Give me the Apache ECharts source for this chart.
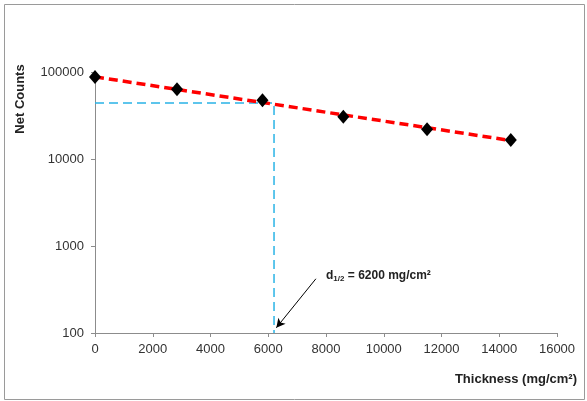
<!DOCTYPE html>
<html>
<head>
<meta charset="utf-8">
<script src="https://cdn.jsdelivr.net/npm/echarts@6/dist/echarts.min.js"></script>
<style>
  html, body { margin: 0; padding: 0; background: #fff; }
  #chart { width: 587px; height: 401px; }
</style>
</head>
<body>
<div id="chart"></div>
<script>
// measured points (thickness mg/cm2, net counts)
const thickness = [0, 2840, 5800, 8600, 11500, 14400]
const counts = [87500, 63500, 47500, 30500, 22000, 16500]

// exponential fit, straight on the log axis
const fitX = [0, 14400]
const fitY = [88000, 16300]

// half-value guide
const halfX = [0, 6200, 6200]
const halfY = [44000, 44000, 100]

// arrow from the label to the axis
const arrowFrom = [7650, 420]
const arrowTo = [6280, 115]

const xTicks = [0, 2000, 4000, 6000, 8000, 10000, 12000, 14000, 16000]
const yTicks = [100, 1000, 10000, 100000]

const chart = echarts.init(document.getElementById('chart'))

const font = 'Liberation Sans, Arial, sans-serif'

const option = {
  animation: false,
  grid: { left: 95, right: 30, top: 72, bottom: 68 },
  xAxis: {
    type: 'value',
    min: xTicks[0],
    max: xTicks[xTicks.length - 1],
    interval: 2000,
    axisLine: { lineStyle: { color: '#8c8c8c', width: 1 } },
    axisTick: { show: true, length: 4, lineStyle: { color: '#8c8c8c' } },
    axisLabel: { color: '#333', fontFamily: font, fontSize: 13, margin: 10, formatter: v => String(v) },
    splitLine: { show: false }
  },
  yAxis: {
    type: 'log',
    logBase: 10,
    min: yTicks[0],
    max: yTicks[yTicks.length - 1],
    axisLine: { show: true, lineStyle: { color: '#8c8c8c', width: 1 } },
    axisTick: { show: true, length: 4, lineStyle: { color: '#8c8c8c' } },
    axisLabel: { color: '#333', fontFamily: font, fontSize: 13, margin: 11, formatter: v => String(Math.round(v)) },
    splitLine: { show: false },
    minorTick: { show: false }
  },
  series: [
    {
      name: 'half',
      type: 'line',
      data: halfX.map((x, i) => [x, halfY[i]]),
      symbol: 'none',
      lineStyle: { color: '#29b3e6', width: 1.5, type: [9, 5] },
      z: 2
    },
    {
      name: 'fit',
      type: 'line',
      data: fitX.map((x, i) => [x, fitY[i]]),
      symbol: 'none',
      lineStyle: { color: '#ff0000', width: 3.5, type: [9, 5] },
      z: 3,
      markLine: {
        silent: true,
        symbol: ['none', 'arrow'],
        symbolSize: [7, 9],
        lineStyle: { color: '#000', width: 1, type: 'solid' },
        label: { show: false },
        data: [[{ coord: arrowFrom }, { coord: arrowTo }]]
      }
    },
    {
      name: 'data',
      type: 'scatter',
      data: thickness.map((x, i) => [x, counts[i]]),
      symbol: 'diamond',
      symbolSize: [12, 14],
      itemStyle: { color: '#000', opacity: 1 },
      z: 4
    }
  ],
  graphic: [
    {
      type: 'rect',
      shape: { x: 4.5, y: 4.5, width: 580, height: 395 },
      style: { fill: 'none', stroke: '#9a9a9a', lineWidth: 1 },
      silent: true
    },
    {
      type: 'text',
      x: 20, y: 99,
      rotation: Math.PI / 2,
      style: {
        text: 'Net Counts',
        font: 'bold 13px ' + font,
        fill: '#222',
        align: 'center',
        verticalAlign: 'middle'
      }
    },
    {
      type: 'text',
      x: 577, y: 379,
      style: {
        text: 'Thickness (mg/cm²)',
        font: 'bold 13px ' + font,
        fill: '#222',
        align: 'right',
        verticalAlign: 'middle'
      }
    },
    {
      type: 'text',
      x: 326, y: 276,
      style: {
        text: '{b|d}{s|1/2}{b| = 6200 mg/cm²}',
        verticalAlign: 'middle',
        rich: {
          b: { font: 'bold 12px ' + font, fill: '#222' },
          s: { font: 'bold 8px ' + font, fill: '#222', padding: [6, 0, 0, 0] }
        }
      }
    }
  ]
}

chart.setOption(option)
window.addEventListener('resize', chart.resize)
</script>
</body>
</html>
